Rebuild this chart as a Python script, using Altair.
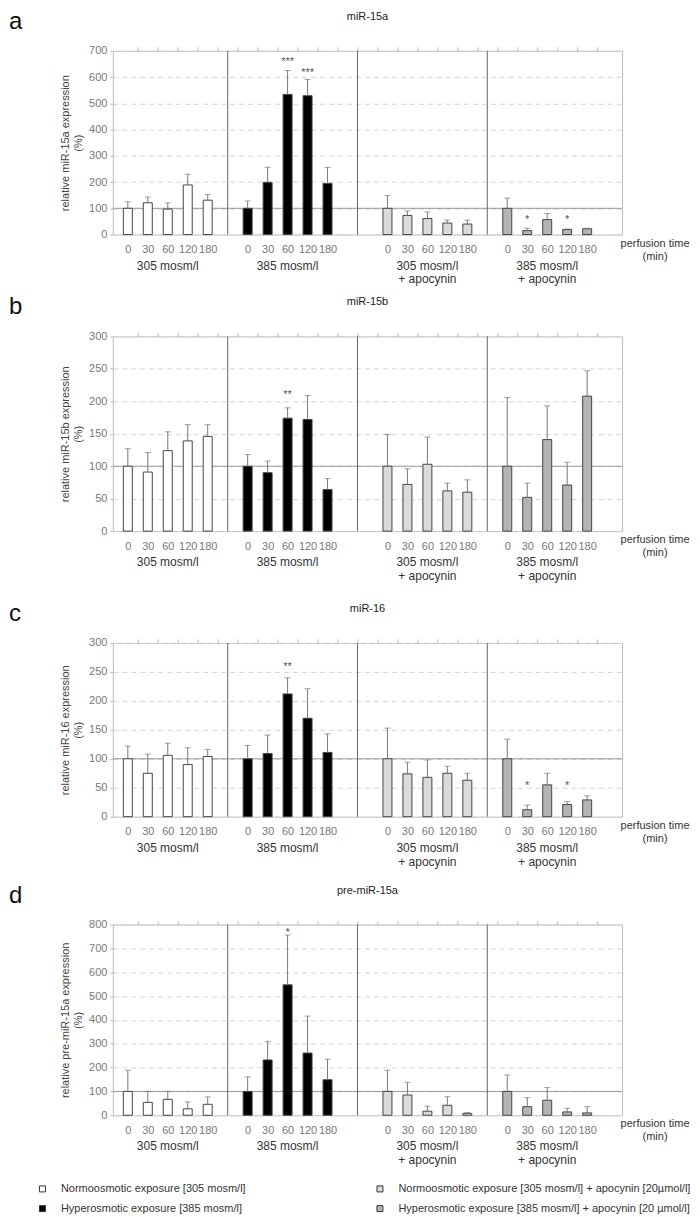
import json
import altair as alt
import pandas as pd

# ---------------- data ----------------
times = ["0", "30", "60", "120", "180"]
groups = [
    "Normoosmotic exposure [305 mosm/l]",
    "Hyperosmotic exposure [385 mosm/l]",
    "Normoosmotic exposure [305 mosm/l] + apocynin [20µmol/l]",
    "Hyperosmotic exposure [385 mosm/l] + apocynin [20 µmol/l]",
]
group_labels = ["305 mosm/l", "385 mosm/l", "305 mosm/l\n+ apocynin", "385 mosm/l\n+ apocynin"]
# category slots on the x axis (blank slots between the groups)
group_start = [0, 6, 13, 19]
separators = [5, 11.5, 18]
n_slots = 25

a_mean = [100, 121, 97, 189, 131, 100, 199, 534, 529, 195, 100, 73, 61, 44, 40, 100, 15, 57, 19, 22]
a_top = [125, 143, 121, 230, 153, 128, 256, 625, 591, 256, 149, 90, 86, 55, 55, 139, 24, 80, 21, 24]
a_stars = [("***", 8, 669), ("***", 9, 625), ("*", 20, 65), ("*", 22, 65)]

b_mean = [100, 91, 124, 139, 146, 100, 90, 174, 172, 64, 100, 72, 103, 62, 60, 100, 52, 141, 71, 208]
b_top = [127, 121, 153, 164, 164, 118, 108, 190, 209, 81, 149, 96, 145, 74, 79, 206, 74, 193, 106, 247]
b_stars = [("**", 8, 214)]

c_mean = [100, 75, 106, 90, 104, 100, 109, 212, 170, 111, 100, 74, 68, 75, 63, 100, 12, 55, 21, 29]
c_top = [122, 108, 127, 119, 116, 123, 141, 240, 221, 143, 153, 94, 98, 87, 75, 134, 20, 75, 26, 36]
c_stars = [("**", 8, 264), ("*", 20, 58), ("*", 22, 58)]

d_mean = [100, 54, 67, 27, 46, 100, 232, 547, 261, 149, 100, 85, 17, 42, 8, 100, 36, 63, 14, 10]
d_top = [189, 100, 100, 56, 77, 161, 310, 756, 416, 235, 189, 138, 38, 78, 11, 169, 74, 116, 29, 36]
d_stars = [("*", 8, 777)]

fill_colors = ["#ffffff", "#000000", "#dadada", "#b4b4b4"]

# ---------------- helpers ----------------
slot_labels = [""] * n_slots
for gs in group_start:
    for ti, t in enumerate(times):
        slot_labels[gs + ti] = t
label_expr = json.dumps(slot_labels) + "[datum.value]"
bar_slots = [gs + ti for gs in group_start for ti in range(len(times))]
boundaries = [k + 0.5 for k in range(n_slots - 1)]

W = 510
X_SCALE = alt.Scale(domain=[-0.5, n_slots - 0.5], nice=False, zero=False)


def x_enc(kind=None, field="slot"):
    if kind == "labels":
        axis = alt.Axis(
            values=bar_slots,
            labelExpr=label_expr,
            labelFlush=False,
            labelColor="#777",
            labelFontSize=11,
            labelPadding=9,
            ticks=False,
            domain=False,
            grid=False,
            title=None,
        )
    elif kind == "ticks":
        axis = alt.Axis(
            values=boundaries,
            labels=False,
            tickSize=4,
            tickColor="#bbb",
            domain=False,
            grid=False,
            title=None,
        )
    else:
        axis = None
    return alt.X(f"{field}:Q", scale=X_SCALE, axis=axis)


def y_enc(field, ymax, ystep, ytitle):
    return alt.Y(
        f"{field}:Q",
        scale=alt.Scale(domain=[0, ymax], nice=False),
        axis=alt.Axis(
            values=list(range(0, ymax + 1, ystep)),
            labelFlush=False,
            labelColor="#777",
            labelFontSize=11,
            labelPadding=3,
            tickSize=3,
            tickColor="#bbb",
            domain=False,
            grid=True,
            gridColor="#d4d4d4",
            gridDash=[5, 4],
            title=[ytitle, "(%)"],
            titleFontSize=11,
            titleFontWeight="normal",
            titleColor="#444",
            titlePadding=5,
        ),
    )


def panel(letter, title, ytitle, mean, top, stars, ymax, ystep, H, show_legend=False):
    rows = []
    for gi, g in enumerate(groups):
        for ti in range(len(times)):
            k = gi * 5 + ti
            rows.append({"slot": group_start[gi] + ti, "mean": mean[k], "top": top[k], "group": g})
    df = pd.DataFrame(rows)
    star_df = pd.DataFrame(stars, columns=["txt", "slot", "y"])
    sep_df = pd.DataFrame({"slot": separators})
    ref_df = pd.DataFrame({"ref": [100]})
    grp_df = pd.DataFrame({"slot": [gs + 2 for gs in group_start], "lab": group_labels})

    if show_legend:
        legend = alt.Legend(
            title=None,
            orient="none",
            legendX=-76,
            legendY=H + 68,
            columns=2,
            symbolType="square",
            symbolSize=36,
            symbolStrokeColor="#333",
            symbolStrokeWidth=1,
            labelFontSize=11,
            labelColor="#333",
            labelOffset=13,
            rowPadding=8,
            columnPadding=128,
            labelLimit=400,
        )
    else:
        legend = None

    bars = alt.Chart(df).mark_bar(size=9, stroke="#444", strokeWidth=1).encode(
        x=x_enc("labels"),
        y=y_enc("mean", ymax, ystep, ytitle),
        fill=alt.Fill("group:N", scale=alt.Scale(domain=groups, range=fill_colors), legend=legend),
    )
    err = alt.Chart(df).mark_rule(color="#777", strokeWidth=1).encode(
        x=x_enc(), y=y_enc("mean", ymax, ystep, ytitle), y2="top:Q"
    )
    caps = alt.Chart(df).mark_tick(orient="horizontal", size=6, thickness=1, color="#777").encode(
        x=x_enc(), y=y_enc("top", ymax, ystep, ytitle)
    )
    refline = alt.Chart(ref_df).mark_rule(color="#999", strokeWidth=1).encode(
        y=y_enc("ref", ymax, ystep, ytitle)
    )
    seps = alt.Chart(sep_df).mark_rule(color="#666", strokeWidth=1).encode(x=x_enc("ticks"))
    star_txt = alt.Chart(star_df).mark_text(fontSize=11, color="#555", baseline="alphabetic", dy=6).encode(
        x=x_enc(), y=y_enc("y", ymax, ystep, ytitle), text="txt:N"
    )
    grp_txt = alt.Chart(grp_df).mark_text(
        fontSize=12, color="#333", baseline="top", lineBreak="\n", lineHeight=14
    ).encode(x=x_enc(), y=alt.value(H + 26), text="lab:N")
    perf = alt.Chart(pd.DataFrame({"t": ["perfusion time\n(min)"]})).mark_text(
        fontSize=11, color="#333", baseline="top", lineBreak="\n", lineHeight=13
    ).encode(x=alt.value(W + 33), y=alt.value(H + 3), text="t:N")
    let = alt.Chart(pd.DataFrame({"t": [letter]})).mark_text(
        fontSize=24, color="#111", align="left", baseline="alphabetic"
    ).encode(x=alt.value(-104), y=alt.value(-22), text="t:N")
    ttl = alt.Chart(pd.DataFrame({"t": [title]})).mark_text(
        fontSize=11, color="#222", baseline="middle"
    ).encode(x=alt.value(W / 2), y=alt.value(-34), text="t:N")

    return (
        alt.layer(refline, bars, err, caps, seps, star_txt, grp_txt, perf, let, ttl)
        .resolve_axis(x="independent")
        .properties(width=W, height=H)
    )


pa = panel("a", "miR-15a", "relative miR-15a expression", a_mean, a_top, a_stars, 700, 100, 184)
pb = panel("b", "miR-15b", "relative miR-15b expression", b_mean, b_top, b_stars, 300, 50, 195)
pc = panel("c", "miR-16", "relative miR-16 expression", c_mean, c_top, c_stars, 300, 50, 174)
pd_ = panel("d", "pre-miR-15a", "relative pre-miR-15a expression", d_mean, d_top, d_stars, 800, 100, 191, show_legend=True)


def indep(c):
    return c.resolve_scale(fill="independent", x="independent", y="independent")


cd = indep(alt.vconcat(pc, pd_, spacing=14))
bcd = indep(alt.vconcat(pb, cd, spacing=18))
chart = (
    indep(alt.vconcat(pa, bcd, spacing=8))
    .properties(padding=0)
    .configure(font="Liberation Sans")
    .configure_view(stroke="#bbb", strokeWidth=1)
)

chart.save("out.html", embed_options={"renderer": "svg", "actions": False})
